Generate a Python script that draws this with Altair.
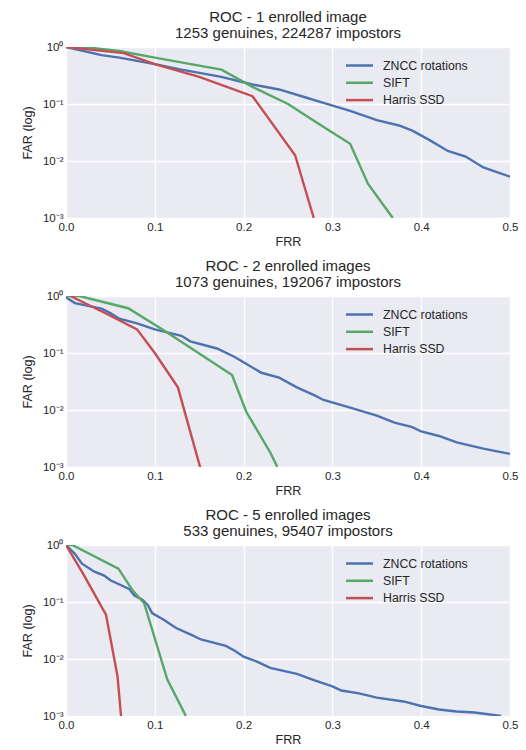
import altair as alt
import pandas as pd

methods = ["ZNCC rotations", "SIFT", "Harris SSD"]
colors = ["#4C72B0", "#55A868", "#C44E52"]

titles = [
    ["ROC - 1 enrolled image", "1253 genuines, 224287 impostors"],
    ["ROC - 2 enrolled images", "1073 genuines, 192067 impostors"],
    ["ROC - 5 enrolled images", "533 genuines, 95407 impostors"],
]

# Panel 1
p1_zncc_frr = [0.0, 0.04, 0.06, 0.1, 0.13, 0.175, 0.21, 0.24, 0.27, 0.29, 0.32, 0.35, 0.375, 0.39, 0.41, 0.43, 0.45, 0.47, 0.5]
p1_zncc_far = [1.0, 0.72, 0.65, 0.5, 0.4, 0.3, 0.22, 0.18, 0.13, 0.105, 0.076, 0.052, 0.042, 0.034, 0.023, 0.015, 0.012, 0.0077, 0.0053]
p1_sift_frr = [0.0, 0.02, 0.06, 0.1, 0.175, 0.21, 0.25, 0.28, 0.32, 0.34, 0.368]
p1_sift_far = [1.0, 1.0, 0.85, 0.65, 0.4, 0.2, 0.1, 0.05, 0.02, 0.004, 0.001]
p1_harris_frr = [0.0, 0.065, 0.1, 0.15, 0.21, 0.258, 0.279]
p1_harris_far = [1.0, 0.78, 0.5, 0.3, 0.137, 0.0126, 0.001]

# Panel 2
p2_zncc_frr = [0.0, 0.01, 0.04, 0.05, 0.06, 0.08, 0.1, 0.13, 0.14, 0.17, 0.19, 0.22, 0.24, 0.26, 0.28, 0.29, 0.32, 0.35, 0.37, 0.39, 0.4, 0.42, 0.44, 0.47, 0.5]
p2_zncc_far = [0.95, 0.75, 0.6, 0.5, 0.4, 0.33, 0.26, 0.2, 0.16, 0.12, 0.085, 0.045, 0.037, 0.025, 0.018, 0.015, 0.011, 0.008, 0.006, 0.005, 0.0042, 0.0035, 0.0027, 0.0021, 0.0017]
p2_sift_frr = [0.0, 0.015, 0.07, 0.11, 0.187, 0.203, 0.23, 0.238]
p2_sift_far = [1.0, 1.0, 0.61, 0.25, 0.041, 0.0093, 0.0018, 0.001]
p2_harris_frr = [0.005, 0.05, 0.08, 0.1, 0.126, 0.151]
p2_harris_far = [1.0, 0.45, 0.26, 0.1, 0.025, 0.001]

# Panel 3
p3_zncc_frr = [0.0, 0.01, 0.018, 0.032, 0.043, 0.05, 0.071, 0.077, 0.086, 0.092, 0.097, 0.11, 0.124, 0.14, 0.152, 0.18, 0.19, 0.2, 0.215, 0.23, 0.26, 0.28, 0.3, 0.31, 0.33, 0.35, 0.38, 0.4, 0.42, 0.44, 0.46, 0.49]
p3_zncc_far = [1.0, 0.7, 0.47, 0.34, 0.29, 0.24, 0.17, 0.13, 0.11, 0.089, 0.064, 0.049, 0.035, 0.027, 0.022, 0.017, 0.014, 0.011, 0.009, 0.007, 0.0055, 0.0042, 0.0033, 0.0028, 0.0025, 0.0021, 0.0018, 0.0015, 0.0013, 0.0012, 0.00115, 0.001]
p3_sift_frr = [0.0, 0.007, 0.059, 0.075, 0.088, 0.114, 0.135]
p3_sift_far = [1.0, 1.0, 0.385, 0.16, 0.095, 0.0044, 0.001]
p3_harris_frr = [0.0, 0.02, 0.045, 0.058, 0.062]
p3_harris_far = [1.0, 0.3, 0.06, 0.005, 0.001]

panels = [
    [(p1_zncc_frr, p1_zncc_far), (p1_sift_frr, p1_sift_far), (p1_harris_frr, p1_harris_far)],
    [(p2_zncc_frr, p2_zncc_far), (p2_sift_frr, p2_sift_far), (p2_harris_frr, p2_harris_far)],
    [(p3_zncc_frr, p3_zncc_far), (p3_sift_frr, p3_sift_far), (p3_harris_frr, p3_harris_far)],
]

FONT = "Liberation Sans"
TXT = "#262626"

label_expr = ("datum.value >= 0.5 ? '10⁰' : datum.value >= 0.05 ? '10⁻¹' : "
              "datum.value >= 0.005 ? '10⁻²' : '10⁻³'")

charts = []
for i, series in enumerate(panels):
    rows = []
    for m_idx, (xs, ys) in enumerate(series):
        for k, (x, y) in enumerate(zip(xs, ys)):
            rows.append({"method": methods[m_idx], "order": k, "frr": x, "far": y})
    df = pd.DataFrame(rows)
    c = alt.Chart(df).mark_line(strokeWidth=2.4, clip=True).encode(
        x=alt.X("frr:Q", title="FRR",
                scale=alt.Scale(domain=[0, 0.5], nice=False),
                axis=alt.Axis(values=[0, 0.1, 0.2, 0.3, 0.4, 0.5], format=".1f")),
        y=alt.Y("far:Q", title="FAR (log)",
                scale=alt.Scale(type="log", domain=[0.001, 1], nice=False),
                axis=alt.Axis(values=[0.001, 0.01, 0.1, 1], labelExpr=label_expr)),
        color=alt.Color("method:N", sort=methods,
                        scale=alt.Scale(domain=methods, range=colors),
                        legend=alt.Legend(title=None, orient="none", legendX=283, legendY=8,
                                          padding=0,
                                          symbolType="M-1.5,0H1.5", symbolSize=324,
                                          symbolStrokeWidth=2.5, labelFontSize=12.3,
                                          labelFont=FONT, labelColor=TXT, rowPadding=0.3,
                                          labelOffset=13)),
        order="order:Q",
    ).properties(
        width=444, height=171,
        title=alt.TitleParams(titles[i], fontSize=15, fontWeight="normal", font=FONT,
                              color=TXT, offset=0, lineHeight=16),
    )
    charts.append(c)

chart = alt.vconcat(*charts, spacing=10).resolve_legend(color="independent").properties(
    padding={"left": 13, "top": 2, "right": 0, "bottom": 0}
).configure_view(
    fill="#EAEAF2", stroke=None
).configure_axis(
    grid=True, gridColor="white", gridWidth=1.3, domain=False, ticks=False,
    labelFont=FONT, labelFontSize=11.5, labelColor=TXT, labelPadding=3,
    titleFont=FONT, titleFontSize=12.6, titleColor=TXT, titleFontWeight="normal",
).configure_axisX(titlePadding=3, labelFlush=False).configure_axisY(titlePadding=8)

chart.save("out.html", embed_options={"renderer": "svg", "actions": False})
